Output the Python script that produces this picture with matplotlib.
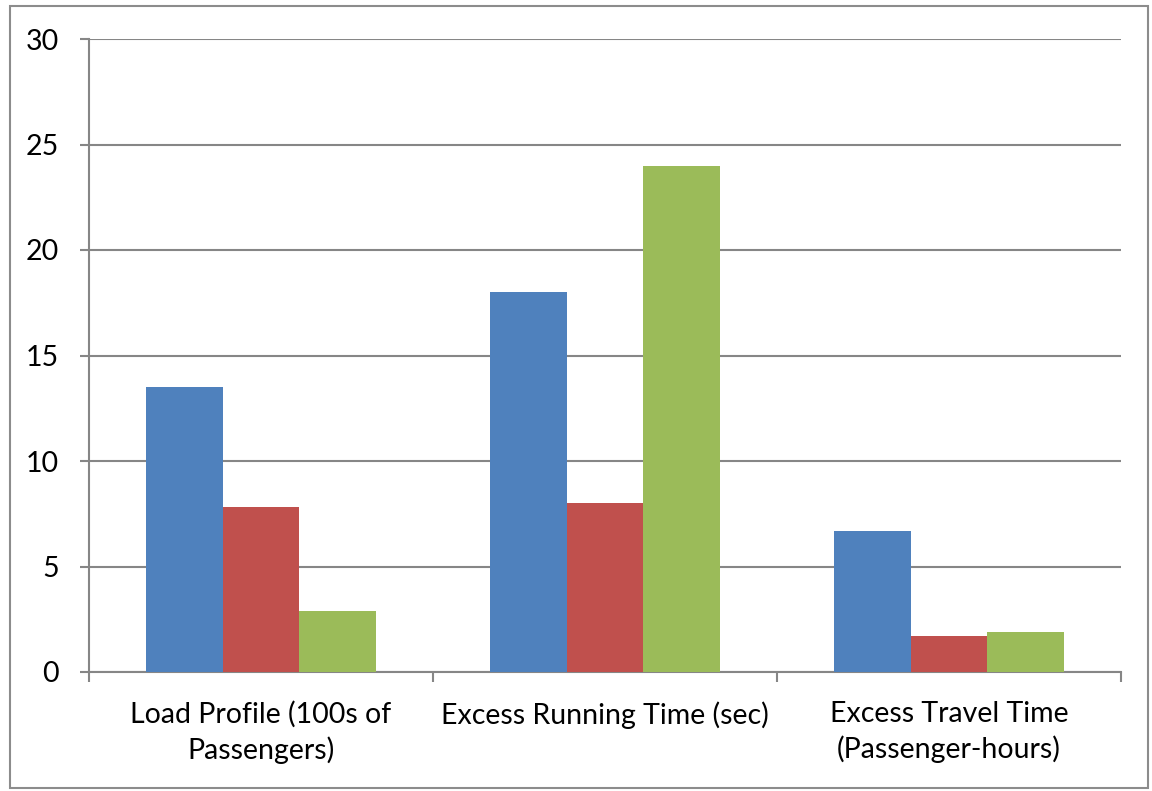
import matplotlib
matplotlib.use("Agg")
import matplotlib.pyplot as plt
from matplotlib.patches import Rectangle
import numpy as np

categories = ["Load Profile (100s of\nPassengers)",
              "Excess Running Time (sec)",
              "Excess Travel Time\n(Passenger-hours)"]
series_a = [13.5, 18.0, 6.7]
series_b = [7.8, 8.0, 1.7]
series_c = [2.9, 24.0, 1.9]
y_ticks = [0, 5, 10, 15, 20, 25, 30]

colors = ["#4F81BD", "#C0504D", "#9BBB59"]
grid_color = "#868686"

plt.rcParams['font.family'] = ['Lato', 'DejaVu Sans']

fig = plt.figure(figsize=(11.52, 7.91), dpi=100)
ax = fig.add_axes([89 / 1152, 1 - 672 / 791, (1121 - 89) / 1152, (672 - 39) / 791])

# outer chart border
fig.patches.append(Rectangle((10 / 1152, 1 - 788 / 791), 1138 / 1152, 782 / 791,
                             transform=fig.transFigure, fill=False,
                             edgecolor="#8c8c8c", linewidth=1.5))

x = np.arange(len(categories))
bw = 0.222
for i, (vals, c) in enumerate(zip([series_a, series_b, series_c], colors)):
    ax.bar(x + (i - 1) * bw, vals, width=bw, color=c, zorder=3)

ax.set_xlim(-0.5, 2.5)
ax.set_ylim(0, 30)
ax.set_yticks(y_ticks)
ax.set_yticklabels([str(t) for t in y_ticks], fontsize=20.5)
ax.yaxis.grid(True, color=grid_color, linewidth=1.5, zorder=0)
ax.set_axisbelow(True)

# category labels centred on groups, ticks at group boundaries
ax.set_xticks(x)
ax.set_xticklabels(categories, fontsize=20.5, linespacing=1.38)
ax.tick_params(axis='x', which='major', length=0, pad=21)
ax.set_xticks([-0.5, 0.5, 1.5, 2.5], minor=True)
ax.tick_params(axis='x', which='minor', length=7, width=1.5, color=grid_color)
ax.tick_params(axis='y', length=6.5, width=1.5, color=grid_color, pad=15)

for s in ["top", "right"]:
    ax.spines[s].set_visible(False)
for s in ["left", "bottom"]:
    ax.spines[s].set_color(grid_color)
    ax.spines[s].set_linewidth(1.5)

fig.savefig("out.png", dpi=100)
